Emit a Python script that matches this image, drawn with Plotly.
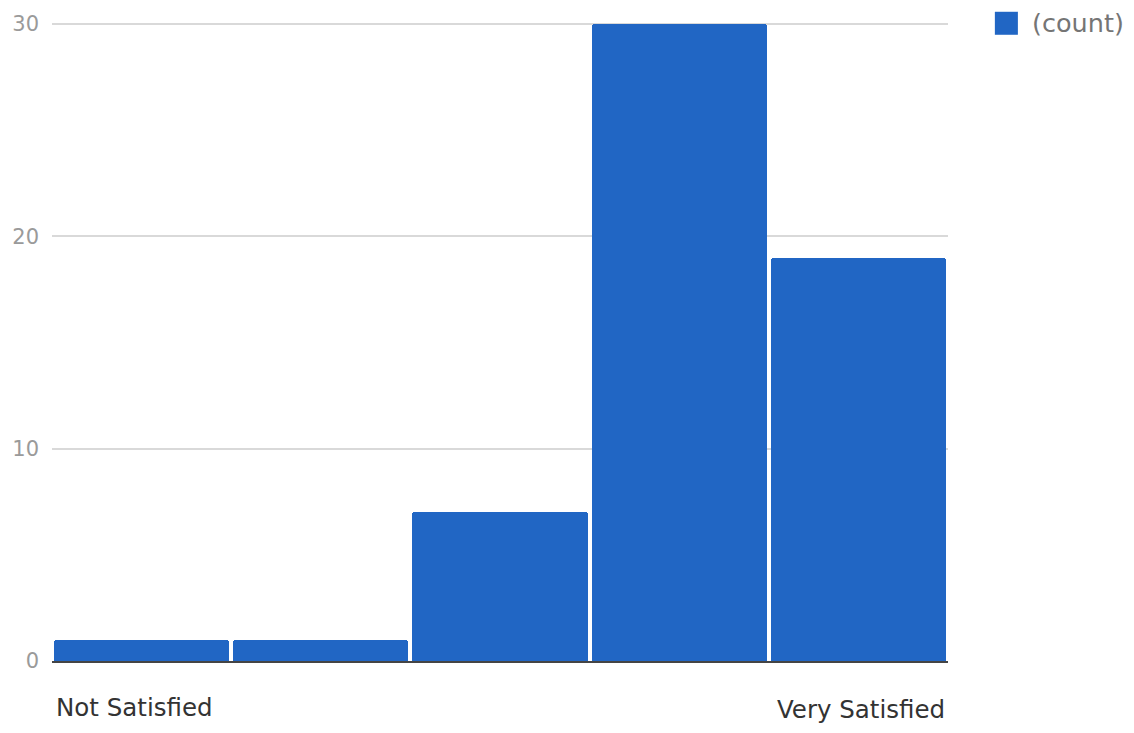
import plotly.graph_objects as go

# Satisfaction ratings (1 = lowest, 5 = highest) and their response counts
ratings = [1, 2, 3, 4, 5]
counts = [1, 1, 7, 30, 19]
scale_labels = ["Not Satisfied", "Very Satisfied"]
series_name = "(count)"
y_ticks = [0, 10, 20, 30]

BAR_COLOR = "#2166C4"
GRID_COLOR = "#D9D9D9"
TICK_COLOR = "#9A9A9A"
FONT = "DejaVu Sans"

fig = go.Figure()
fig.add_trace(
    go.Bar(
        x=ratings,
        y=counts,
        width=0.978,
        marker=dict(color=BAR_COLOR, line=dict(width=0), cornerradius=3),
        name=series_name,
        showlegend=False,
        hoverinfo="x+y",
    )
)

# Legend swatch and label on the right
fig.add_shape(
    type="rect", xref="paper", yref="paper",
    x0=1.0523, x1=1.078, y0=0.980, y1=1.016,
    fillcolor=BAR_COLOR, line=dict(width=0),
)
fig.add_annotation(
    text=series_name, xref="paper", yref="paper",
    x=1.092, y=0.998, xanchor="left", yanchor="middle",
    showarrow=False, font=dict(size=25.5, color="#757575", family=FONT),
)

# Scale end labels under the axis
fig.add_annotation(
    text=scale_labels[0], xref="paper", yref="paper",
    x=0.002, y=-0.0734, xanchor="left", yanchor="middle",
    showarrow=False, font=dict(size=24.5, color="#333333", family=FONT),
)
fig.add_annotation(
    text=scale_labels[1], xref="paper", yref="paper",
    x=0.999, y=-0.0765, xanchor="right", yanchor="middle",
    showarrow=False, font=dict(size=24.5, color="#333333", family=FONT),
)

fig.update_layout(
    width=1134,
    height=733,
    margin=dict(l=50, r=186, t=19, b=72),
    paper_bgcolor="white",
    plot_bgcolor="white",
    bargap=0,
    font=dict(family=FONT),
    xaxis=dict(
        range=[0.5, 5.5],
        showticklabels=False,
        showgrid=False,
        zeroline=False,
        showline=True,
        linecolor="#444444",
        linewidth=1.5,
        fixedrange=True,
    ),
    yaxis=dict(
        range=[0, 30.1],
        tickvals=y_ticks,
        ticks="",
        ticklabelstandoff=12,
        tickfont=dict(size=21, color=TICK_COLOR, family=FONT),
        showgrid=True,
        gridcolor=GRID_COLOR,
        gridwidth=1.5,
        zeroline=False,
        showline=False,
        fixedrange=True,
    ),
)

fig.write_html("out.html")
